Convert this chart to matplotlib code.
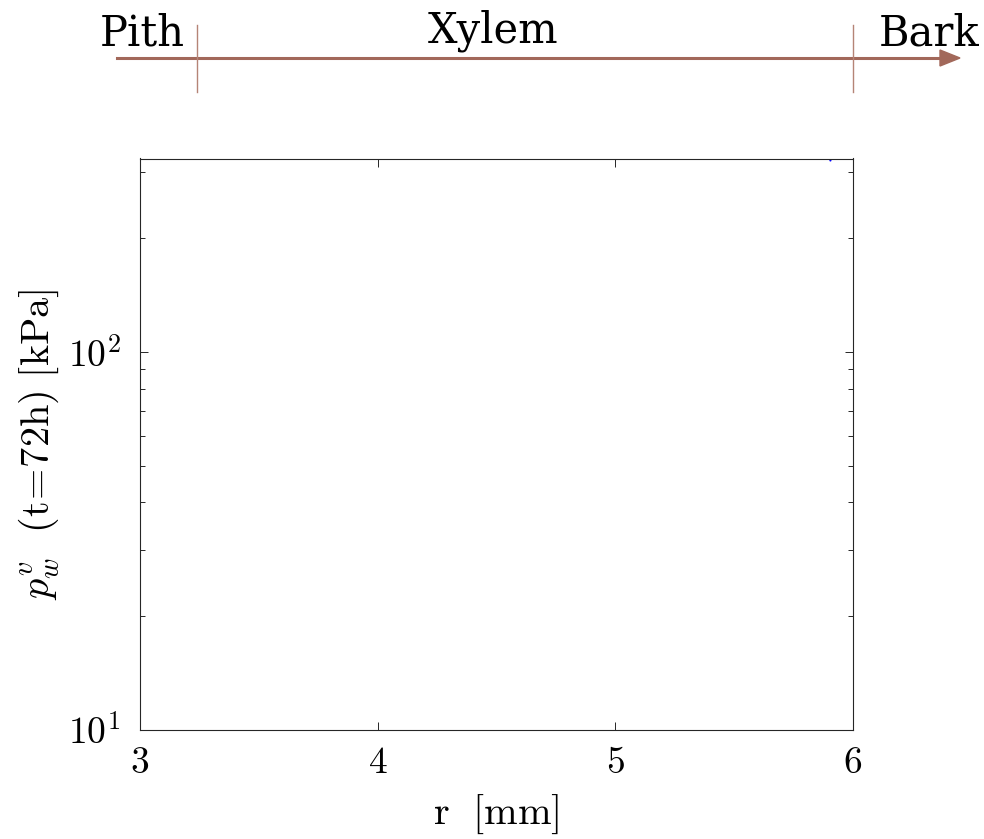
import math
import matplotlib
matplotlib.use("Agg")
import matplotlib.pyplot as plt
from matplotlib.ticker import FixedLocator, FuncFormatter, LogLocator, NullFormatter
import matplotlib.transforms as mtransforms
from matplotlib.patches import FancyArrow

plt.rcParams["mathtext.fontset"] = "cm"
plt.rcParams["font.family"] = ["DejaVu Serif"]

# radial profile of vapour pressure (only the part near the bark reaches the plotted range)
r_mm = [5.885, 5.905, 5.925]
p_kpa = [420.0, 321.0, 420.0]

x_ticks = [3, 4, 5, 6]
y_ticks = [10, 100]
x_limits = (3, 6)
y_limits = (10, 325)

# tissue boundaries along the radius
pith_xylem_r = 3.24
xylem_bark_r = 6.0
zone_names = ["Pith", "Xylem", "Bark"]

axis_col = "#262626"
arrow_col = "#A2685A"
boundary_col = "#B58476"

fig = plt.figure(figsize=(9.84, 8.39), dpi=100)
ax = fig.add_axes([140 / 984, 1 - 730 / 839, 713 / 984, 571.5 / 839])

ax.plot(r_mm, p_kpa, color="#0000FF", lw=1.5)

ax.set_yscale("log")
ax.set_xlim(*x_limits)
ax.set_ylim(*y_limits)
ax.xaxis.set_major_locator(FixedLocator(x_ticks))
ax.xaxis.set_major_formatter(FuncFormatter(lambda v, p: r"$%d$" % v))
ax.yaxis.set_major_locator(FixedLocator(y_ticks))
ax.yaxis.set_major_formatter(FuncFormatter(lambda v, p: r"$10^{%d}$" % round(math.log10(v))))
ax.yaxis.set_minor_locator(LogLocator(base=10, subs=range(2, 10), numticks=20))
ax.yaxis.set_minor_formatter(NullFormatter())

for s in ax.spines.values():
    s.set_color(axis_col)
    s.set_linewidth(0.8)
ax.tick_params(which="both", direction="in", top=True, right=True,
               color=axis_col, width=0.7, labelsize=27)
ax.tick_params(axis="x", pad=11)
ax.tick_params(axis="y", pad=14)
ax.tick_params(which="major", length=6)
ax.tick_params(which="minor", length=3.5)

ax.set_xlabel(r"$\mathrm{r\ \ [mm]}$", fontsize=29, labelpad=8)
ax.set_ylabel(r"$p_w^v\ \ \mathrm{(t\!=\!72h)\ [kPa]}$", fontsize=29, labelpad=5)

# radial direction arrow above the axes
fig.add_artist(plt.Line2D([117 / 984, 945 / 984], [1 - 58 / 839, 1 - 58 / 839],
                          color=arrow_col, lw=2.2, transform=fig.transFigure))
fig.add_artist(FancyArrow(
    940 / 984, 1 - 58 / 839, 20 / 984, 0, width=0.0, head_width=16 / 839,
    head_length=20 / 984, length_includes_head=True, color=arrow_col,
    transform=fig.transFigure))

blend = mtransforms.blended_transform_factory(ax.transData, fig.transFigure)
for rb in (pith_xylem_r, xylem_bark_r):
    fig.add_artist(plt.Line2D([rb, rb], [1 - 92 / 839, 1 - 25 / 839],
                              color=boundary_col, lw=1.0, transform=blend))

zone_font = dict(family=["DejaVu Serif"], fontsize=30, ha="center", va="baseline")
fig.text(142 / 984, 1 - 45 / 839, zone_names[0], **zone_font)
fig.text(493 / 984, 1 - 42 / 839, zone_names[1], **zone_font)
fig.text(929 / 984, 1 - 45 / 839, zone_names[2], **zone_font)

fig.savefig("out.png", dpi=100, facecolor="white")
